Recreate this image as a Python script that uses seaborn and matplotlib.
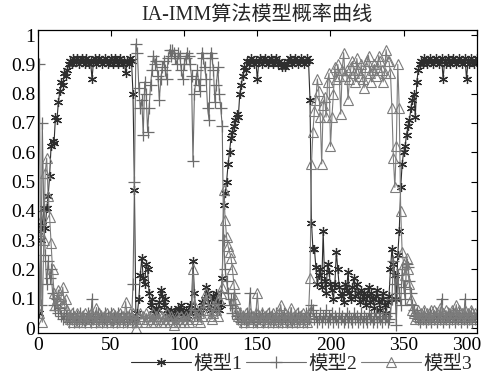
import matplotlib
matplotlib.use("Agg")
import matplotlib.pyplot as plt
import numpy as np
import pandas as pd
import seaborn as sns
from matplotlib.transforms import ScaledTranslation

# ---------------- data (t = 0..300) ----------------
model1 = [
    0.33, 0.05, 0.30, 0.35, 0.41, 0.34, 0.41, 0.45, 0.52, 0.62,
    0.64, 0.63, 0.72, 0.71, 0.77, 0.81, 0.84, 0.83, 0.87, 0.86,
    0.88, 0.90, 0.91, 0.90, 0.92, 0.91, 0.91, 0.92, 0.90, 0.91,
    0.92, 0.91, 0.90, 0.92, 0.91, 0.90, 0.91, 0.85, 0.91, 0.92,
    0.90, 0.91, 0.92, 0.91, 0.90, 0.91, 0.92, 0.91, 0.90, 0.91,
    0.92, 0.90, 0.91, 0.92, 0.91, 0.90, 0.92, 0.91, 0.90, 0.91,
    0.87, 0.91, 0.90, 0.92, 0.91, 0.80, 0.47, 0.03, 0.05, 0.10,
    0.18, 0.24, 0.17, 0.15, 0.22, 0.20, 0.12, 0.08, 0.10, 0.06,
    0.05, 0.07, 0.06, 0.09, 0.13, 0.11, 0.08, 0.10, 0.06, 0.05,
    0.04, 0.06, 0.05, 0.03, 0.04, 0.05, 0.07, 0.06, 0.08, 0.05,
    0.04, 0.06, 0.03, 0.05, 0.08, 0.06, 0.23, 0.12, 0.05, 0.04,
    0.06, 0.05, 0.09, 0.07, 0.10, 0.14, 0.12, 0.08, 0.06, 0.10,
    0.11, 0.07, 0.12, 0.09, 0.06, 0.08, 0.17, 0.42, 0.46, 0.50,
    0.56, 0.60, 0.65, 0.67, 0.69, 0.71, 0.73, 0.72, 0.80, 0.83,
    0.86, 0.89, 0.88, 0.91, 0.90, 0.91, 0.92, 0.91, 0.90, 0.91,
    0.85, 0.91, 0.92, 0.90, 0.91, 0.92, 0.91, 0.90, 0.91, 0.92,
    0.91, 0.90, 0.91, 0.92, 0.90, 0.91, 0.90, 0.89, 0.90, 0.89,
    0.90, 0.91, 0.92, 0.91, 0.90, 0.91, 0.92, 0.91, 0.90, 0.91,
    0.92, 0.91, 0.90, 0.91, 0.92, 0.91, 0.78, 0.36, 0.27, 0.27,
    0.21, 0.15, 0.18, 0.20, 0.14, 0.33, 0.16, 0.12, 0.22, 0.19,
    0.15, 0.13, 0.10, 0.15, 0.26, 0.20, 0.14, 0.11, 0.12, 0.09,
    0.15, 0.13, 0.19, 0.12, 0.10, 0.14, 0.17, 0.11, 0.15, 0.12,
    0.09, 0.13, 0.10, 0.12, 0.08, 0.11, 0.14, 0.09, 0.12, 0.10,
    0.07, 0.11, 0.13, 0.09, 0.06, 0.10, 0.12, 0.08, 0.05, 0.09,
    0.11, 0.20, 0.27, 0.22, 0.18, 0.10, 0.25, 0.33, 0.48, 0.56,
    0.60, 0.62, 0.66, 0.69, 0.71, 0.75, 0.78, 0.80, 0.72, 0.84,
    0.88, 0.90, 0.91, 0.90, 0.92, 0.91, 0.90, 0.91, 0.92, 0.91,
    0.90, 0.91, 0.92, 0.91, 0.90, 0.91, 0.92, 0.85, 0.91, 0.90,
    0.92, 0.91, 0.90, 0.91, 0.92, 0.91, 0.90, 0.91, 0.92, 0.91,
    0.90, 0.91, 0.92, 0.85, 0.91, 0.90, 0.92, 0.91, 0.90, 0.91,
    0.92,
]

model2 = [
    0.33, 0.90, 0.08, 0.70, 0.40, 0.25, 0.15, 0.23, 0.17, 0.20,
    0.12, 0.08, 0.06, 0.10, 0.05, 0.07, 0.04, 0.03, 0.05, 0.04,
    0.03, 0.02, 0.04, 0.03, 0.05, 0.02, 0.03, 0.04, 0.02, 0.05,
    0.03, 0.04, 0.02, 0.03, 0.05, 0.04, 0.02, 0.10, 0.03, 0.04,
    0.02, 0.05, 0.03, 0.04, 0.02, 0.03, 0.05, 0.02, 0.04, 0.03,
    0.05, 0.02, 0.03, 0.04, 0.02, 0.05, 0.03, 0.04, 0.02, 0.03,
    0.05, 0.02, 0.04, 0.03, 0.02, 0.15, 0.50, 0.97, 0.94, 0.82,
    0.75, 0.78, 0.66, 0.84, 0.80, 0.67, 0.75, 0.83, 0.88, 0.93,
    0.90, 0.91, 0.86, 0.78, 0.85, 0.89, 0.91, 0.88, 0.85, 0.92,
    0.95, 0.93, 0.95, 0.94, 0.92, 0.90, 0.94, 0.93, 0.88, 0.85,
    0.90, 0.92, 0.94, 0.93, 0.90, 0.86, 0.57, 0.80, 0.85, 0.88,
    0.83, 0.81, 0.94, 0.92, 0.89, 0.85, 0.75, 0.71, 0.94, 0.92,
    0.88, 0.77, 0.83, 0.89, 0.80, 0.75, 0.69, 0.30, 0.20, 0.16,
    0.12, 0.08, 0.10, 0.05, 0.12, 0.07, 0.04, 0.03, 0.05, 0.02,
    0.04, 0.03, 0.02, 0.05, 0.03, 0.12, 0.04, 0.02, 0.03, 0.05,
    0.02, 0.04, 0.03, 0.05, 0.02, 0.03, 0.04, 0.02, 0.05, 0.03,
    0.04, 0.02, 0.03, 0.05, 0.02, 0.04, 0.03, 0.02, 0.05, 0.03,
    0.02, 0.04, 0.03, 0.05, 0.02, 0.03, 0.04, 0.02, 0.05, 0.03,
    0.04, 0.02, 0.03, 0.05, 0.02, 0.03, 0.05, 0.08, 0.06, 0.03,
    0.04, 0.02, 0.03, 0.05, 0.02, 0.04, 0.03, 0.06, 0.02, 0.04,
    0.03, 0.05, 0.02, 0.04, 0.03, 0.02, 0.05, 0.03, 0.04, 0.02,
    0.03, 0.05, 0.02, 0.04, 0.03, 0.02, 0.05, 0.03, 0.04, 0.02,
    0.03, 0.05, 0.02, 0.04, 0.03, 0.02, 0.05, 0.03, 0.04, 0.02,
    0.03, 0.05, 0.02, 0.04, 0.03, 0.02, 0.05, 0.03, 0.04, 0.02,
    0.03, 0.05, 0.10, 0.23, 0.15, 0.01, 0.18, 0.12, 0.08, 0.20,
    0.14, 0.10, 0.22, 0.21, 0.16, 0.12, 0.08, 0.06, 0.04, 0.05,
    0.03, 0.02, 0.04, 0.03, 0.05, 0.02, 0.04, 0.03, 0.05, 0.02,
    0.04, 0.03, 0.05, 0.02, 0.04, 0.03, 0.10, 0.02, 0.04, 0.03,
    0.05, 0.02, 0.04, 0.03, 0.05, 0.02, 0.04, 0.03, 0.05, 0.02,
    0.04, 0.03, 0.10, 0.02, 0.04, 0.03, 0.05, 0.02, 0.04, 0.03,
    0.05,
]

model3 = [
    0.33, 0.05, 0.37, 0.02, 0.30, 0.53, 0.58, 0.45, 0.38, 0.29,
    0.20, 0.12, 0.08, 0.10, 0.13, 0.09, 0.11, 0.14, 0.08, 0.10,
    0.06, 0.04, 0.03, 0.05, 0.02, 0.04, 0.03, 0.05, 0.04, 0.02,
    0.04, 0.03, 0.05, 0.02, 0.04, 0.03, 0.05, 0.03, 0.04, 0.02,
    0.07, 0.03, 0.05, 0.04, 0.02, 0.04, 0.03, 0.05, 0.02, 0.04,
    0.03, 0.05, 0.04, 0.02, 0.04, 0.03, 0.05, 0.02, 0.04, 0.03,
    0.09, 0.04, 0.03, 0.05, 0.02, 0.05, 0.03, 0.00, 0.02, 0.04,
    0.05, 0.03, 0.04, 0.02, 0.05, 0.03, 0.04, 0.02, 0.03, 0.05,
    0.02, 0.04, 0.03, 0.05, 0.02, 0.04, 0.03, 0.02, 0.05, 0.03,
    0.02, 0.04, 0.03, 0.01, 0.02, 0.04, 0.03, 0.02, 0.04, 0.03,
    0.02, 0.04, 0.03, 0.02, 0.04, 0.05, 0.20, 0.08, 0.04, 0.03,
    0.05, 0.02, 0.04, 0.06, 0.09, 0.12, 0.10, 0.06, 0.04, 0.03,
    0.05, 0.08, 0.06, 0.04, 0.10, 0.12, 0.14, 0.47, 0.37, 0.31,
    0.28, 0.26, 0.24, 0.20, 0.15, 0.10, 0.06, 0.04, 0.05, 0.03,
    0.04, 0.02, 0.05, 0.03, 0.04, 0.05, 0.02, 0.04, 0.03, 0.05,
    0.12, 0.04, 0.02, 0.05, 0.03, 0.04, 0.02, 0.05, 0.03, 0.04,
    0.02, 0.05, 0.03, 0.04, 0.02, 0.05, 0.08, 0.04, 0.02, 0.05,
    0.03, 0.04, 0.02, 0.07, 0.03, 0.04, 0.02, 0.05, 0.03, 0.04,
    0.02, 0.05, 0.03, 0.04, 0.02, 0.05, 0.17, 0.56, 0.67, 0.74,
    0.78, 0.85, 0.81, 0.72, 0.56, 0.76, 0.79, 0.72, 0.84, 0.87,
    0.62, 0.72, 0.80, 0.89, 0.85, 0.90, 0.86, 0.73, 0.88, 0.94,
    0.86, 0.88, 0.78, 0.85, 0.89, 0.91, 0.87, 0.84, 0.92, 0.88,
    0.86, 0.90, 0.85, 0.82, 0.89, 0.91, 0.93, 0.87, 0.84, 0.88,
    0.90, 0.86, 0.89, 0.93, 0.91, 0.88, 0.84, 0.87, 0.95, 0.91,
    0.91, 0.87, 0.75, 0.58, 0.48, 0.62, 0.90, 0.75, 0.40, 0.26,
    0.22, 0.18, 0.24, 0.20, 0.15, 0.10, 0.06, 0.05, 0.03, 0.04,
    0.06, 0.03, 0.05, 0.04, 0.06, 0.03, 0.05, 0.04, 0.03, 0.06,
    0.03, 0.06, 0.04, 0.05, 0.03, 0.07, 0.04, 0.05, 0.03, 0.06,
    0.04, 0.05, 0.03, 0.06, 0.04, 0.05, 0.08, 0.04, 0.06, 0.03,
    0.05, 0.04, 0.06, 0.03, 0.05, 0.04, 0.06, 0.05, 0.03, 0.05,
    0.04,
]

series_names = ["模型1", "模型2", "模型3"]
x_ticks = [0, 50, 100, 150, 200, 250, 300]
x_tick_labels = ["0", "50", "100", "150", "200", "350", "300"]
y_ticks = [0, 0.1, 0.2, 0.3, 0.4, 0.5, 0.6, 0.7, 0.8, 0.9, 1.0]
y_tick_labels = ["0", "0.1", "0.2", "0.3", "0.4", "0.5", "0.6", "0.7", "0.8", "0.9", "1"]
title_text = "IA-IMM算法模型概率曲线"

# ---------------- plot ----------------
sns.set_style("white")
plt.rcParams["font.family"] = ["Liberation Serif", "Noto Sans CJK SC", "DejaVu Sans"]

fig = plt.figure(figsize=(4.86, 3.83), dpi=100)
ax = fig.add_axes([0.078, 0.1305, 0.903, 0.791])

styles = [
    dict(color="#2e2e2e", marker=(6, 2, 0), markersize=6.5, markerfacecolor="#2e2e2e",
         markeredgecolor="#2e2e2e", markeredgewidth=0.9),
    dict(color="#6c6c6c", marker="+", markersize=8, markerfacecolor="none",
         markeredgecolor="#6c6c6c", markeredgewidth=0.9),
    dict(color="#7c7c7c", marker="^", markersize=6.5, markerfacecolor="none",
         markeredgecolor="#7c7c7c", markeredgewidth=0.8),
]

for name, vals, st in zip(series_names, [model1, model2, model3], styles):
    t = np.arange(len(vals))
    sns.lineplot(x=t, y=vals, ax=ax, label=name, linewidth=0.8, **st)

ax.set_xlim(0, 300)
ax.set_ylim(-0.017, 1.017)
ax.set_xticks(x_ticks)
ax.set_xticklabels(x_tick_labels)
ax.set_yticks(y_ticks)
ax.set_yticklabels(y_tick_labels)
ax.tick_params(direction="in", top=True, right=True, length=4, width=0.8,
               labelsize=14, colors="black", pad=3)
ax.tick_params(axis="y", pad=2)
last = ax.get_xticklabels()[-1]
last.set_horizontalalignment("right")
last.set_transform(last.get_transform() + ScaledTranslation(0.05, 0, fig.dpi_scale_trans))
for sp in ax.spines.values():
    sp.set_color("black")
    sp.set_linewidth(0.9)
ax.set_xlabel("")
ax.set_ylabel("")
ax.set_title(title_text, fontsize=14.5, pad=7)

ax.legend(loc="center", bbox_to_anchor=(0.62, 0.05), bbox_transform=fig.transFigure,
          ncol=3, frameon=False, fontsize=14, handlelength=3.1, handletextpad=0.1,
          columnspacing=0.2, borderaxespad=0)

fig.savefig("out.png", dpi=100)
